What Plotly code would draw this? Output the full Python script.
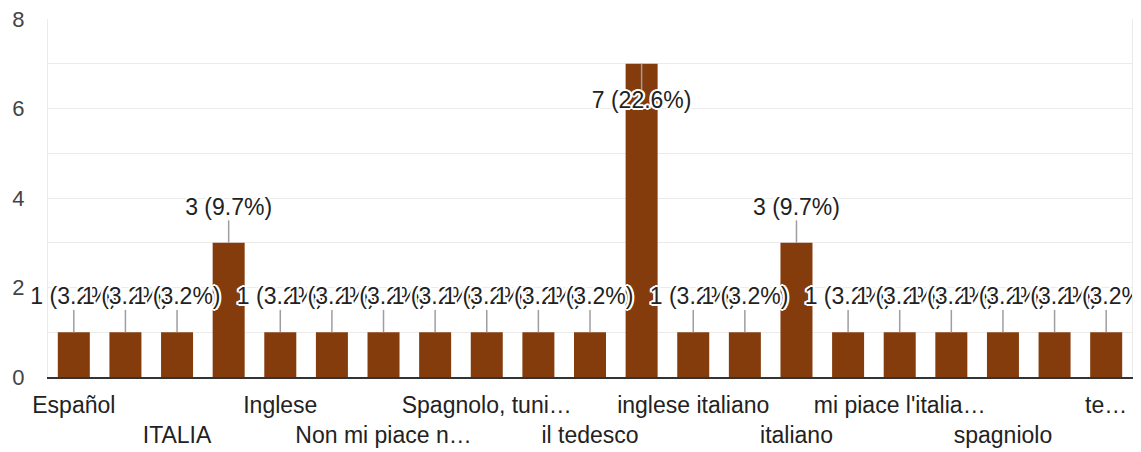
import plotly.graph_objects as go

categories = [
    "Español", "INGLESE", "ITALIA", "Italiano", "Inglese", "Inglese e italiano",
    "Non mi piace nessuna lingua", "Spagnolo", "Spagnolo, tunisino", "Tedesco",
    "il tedesco", "inglese", "inglese italiano", "inglese spagnolo", "italiano",
    "italiano e inglese", "mi piace l'italiano", "russo", "spagniolo", "spagnolo",
    "tedesco",
]
values = [1, 1, 1, 3, 1, 1, 1, 1, 1, 1, 1, 7, 1, 1, 3, 1, 1, 1, 1, 1, 1]
tick_labels = [
    "Español", "ITALIA", "Inglese", "Non mi piace n…", "Spagnolo, tuni…",
    "il tedesco", "inglese italiano", "italiano", "mi piace l'italia…",
    "spagniolo", "te…",
]
y_ticks = [0, 2, 4, 6, 8]

FONT = "Arial, Liberation Sans, sans-serif"
BAR = "#843C0C"
YMAX = 8

total = sum(values)
texts = [f"{v} ({v / total * 100:.1f}%)" for v in values]

# label placement rule (above bar, or inside if no room above)
label_y, lx, ly = [], [], []
for c, v in zip(categories, values):
    if v + 1.0 >= YMAX:
        label_y.append(v - 0.85)
        end = v - 0.6
    else:
        label_y.append(v + 0.75)
        end = v + 0.5
    lx += [c, c, None]
    ly += [v, end, None]

shown_ticks = categories[::2]
tick_text = [t if i % 2 == 0 else "<br>" + t for i, t in enumerate(tick_labels)]

fig = go.Figure()
fig.add_trace(go.Bar(x=categories, y=values, marker=dict(color=BAR, line=dict(width=0)),
                     hoverinfo="skip"))
fig.add_trace(go.Scatter(x=lx, y=ly, mode="lines", line=dict(color="#9e9e9e", width=1.5),
                         hoverinfo="skip"))
halo = ", ".join(f"#fff {dx}px {dy}px 0" for dx, dy in
                 [(2, 0), (-2, 0), (0, 2), (0, -2), (1, 1), (-1, -1), (1, -1), (-1, 1),
                  (2, 1), (-2, 1), (2, -1), (-2, -1)])
fig.add_trace(go.Scatter(x=categories, y=label_y, mode="text", text=texts,
                         textposition="middle center", cliponaxis=False,
                         textfont=dict(family=FONT, size=23, color="#222222", shadow=halo),
                         hoverinfo="skip"))

# page body has an 8px margin: shrink the figure to compensate
fig.update_layout(
    width=1133, height=444,
    margin=dict(l=40, r=9, t=11, b=75),
    paper_bgcolor="white", plot_bgcolor="white",
    showlegend=False, bargap=0.38,
    font=dict(family=FONT, size=23, color="#222222"),
)
fig.update_xaxes(
    type="category", tickmode="array", tickvals=shown_ticks, ticktext=tick_text,
    range=[-0.5, len(categories) - 0.5],
    tickangle=0, automargin=False,
    showgrid=False, showline=True, linecolor="#333333", linewidth=2,
    ticks="", tickfont=dict(family=FONT, size=23, color="#222222"),
    ticklabelstandoff=6,
)
fig.update_yaxes(
    range=[0, YMAX], tickmode="array", tickvals=y_ticks, automargin=False,
    showgrid=True, gridcolor="#ebebeb", gridwidth=1,
    minor=dict(dtick=1, showgrid=True, gridcolor="#ebebeb", gridwidth=1),
    showline=True, linecolor="#ebebeb", linewidth=1, mirror=True,
    zeroline=False, ticks="", ticklabelstandoff=18, ticklabeloverflow="allow",
    tickfont=dict(family=FONT, size=22, color="#444444"),
)

fig.write_html("out.html")
